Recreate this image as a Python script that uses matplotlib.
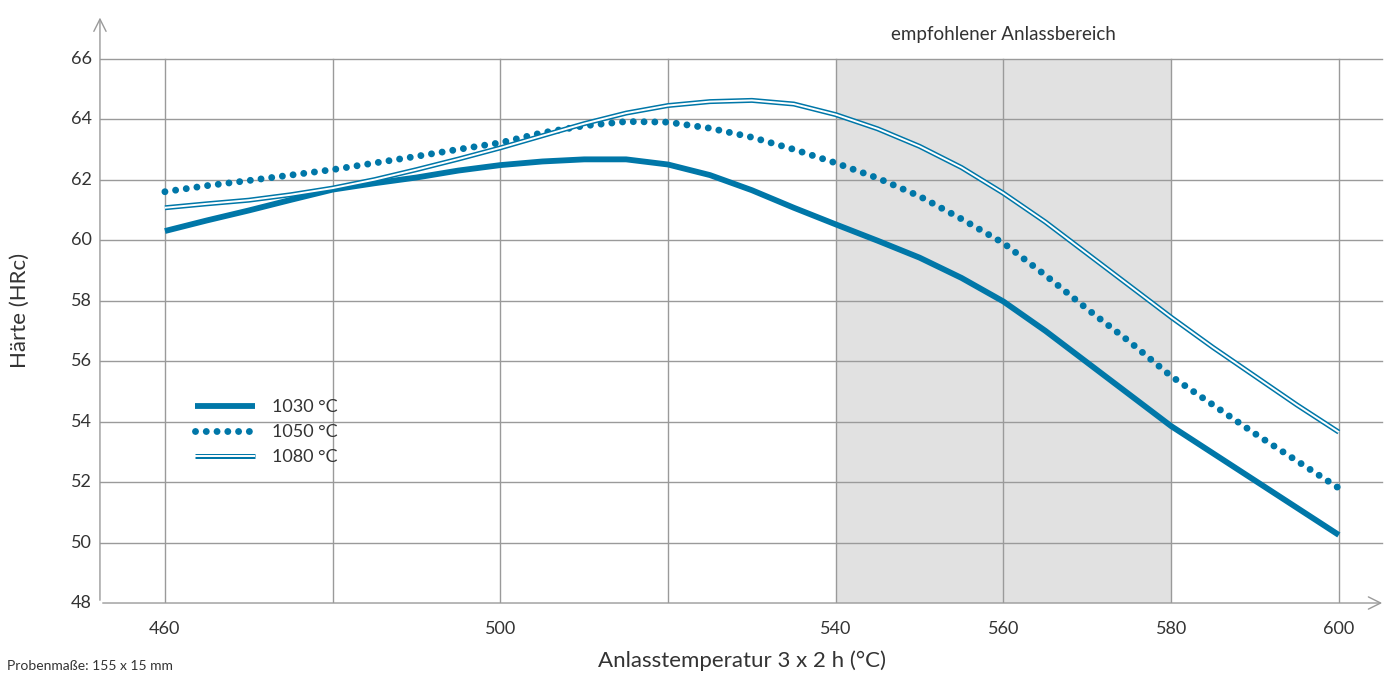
import numpy as np
import matplotlib.pyplot as plt
from matplotlib.legend_handler import HandlerTuple

plt.rcParams['font.family'] = ['Lato', 'DejaVu Sans']

# Anlasstemperatur (°C)
temp = [460, 465, 470, 475, 480, 485, 490, 495, 500, 505, 510, 515, 520, 525, 530,
        535, 540, 545, 550, 555, 560, 565, 570, 575, 580, 585, 590, 595, 600]
# Härte (HRc) je Härtetemperatur
h1030 = [60.3, 60.65, 60.98, 61.33, 61.67, 61.88, 62.07, 62.3, 62.48, 62.6, 62.67, 62.67, 62.5,
         62.15, 61.65, 61.07, 60.52, 59.98, 59.42, 58.75, 57.97, 57.0, 55.95, 54.9, 53.85, 52.95,
         52.05, 51.15, 50.25]
h1050 = [61.6, 61.8, 61.97, 62.15, 62.33, 62.55, 62.77, 63.0, 63.22, 63.55, 63.78, 63.92, 63.9,
         63.7, 63.4, 63.0, 62.55, 62.05, 61.45, 60.7, 59.9, 58.84, 57.72, 56.65, 55.5, 54.55,
         53.6, 52.7, 51.8]
h1080 = [61.07, 61.2, 61.32, 61.5, 61.72, 62.0, 62.33, 62.68, 63.05, 63.45, 63.85, 64.2, 64.45,
         64.58, 64.62, 64.5, 64.15, 63.68, 63.1, 62.4, 61.55, 60.6, 59.55, 58.5, 57.45, 56.45,
         55.5, 54.55, 53.65]
labels = ['1030 °C', '1050 °C', '1080 °C']
xticks = [460, 500, 540, 560, 580, 600]
xgrid = [460, 480, 500, 520, 540, 560, 580, 600]
yticks = [48, 50, 52, 54, 56, 58, 60, 62, 64, 66]
band = (540, 580)

blue = '#0077a8'
grey = '#9a9a9a'
txt = '#333333'

fig = plt.figure(figsize=(13.94, 6.73), dpi=100)
ax = fig.add_axes([0.0717, 0.104, 0.9218, 0.874])
x0, x1 = 452.25, 605.5
y0, y1 = 48, 67.45
ax.set_xlim(x0, x1)
ax.set_ylim(y0, y1)
for s in ax.spines.values():
    s.set_visible(False)

# empfohlener Bereich
ax.fill_between(band, 48, 66, color='#e1e1e1', lw=0, zorder=0)
ax.text(sum(band) / 2, 66.8, 'empfohlener Anlassbereich', ha='center', va='center',
        fontsize=13.5, color=txt)

# Gitter
for x in xgrid:
    ax.plot([x, x], [48, 66], color=grey, lw=1, zorder=1)
for y in yticks[1:]:
    ax.plot([x0, x1 - 0.3], [y, y], color=grey, lw=1, zorder=1)

# Achsen mit Pfeilen
ax.annotate('', xy=(x1, 48), xytext=(x0, 48),
            arrowprops=dict(arrowstyle='->', color=grey, lw=1, mutation_scale=22), zorder=2)
ax.annotate('', xy=(x0, y1), xytext=(x0, 48),
            arrowprops=dict(arrowstyle='->', color=grey, lw=1, mutation_scale=22), zorder=2)

# Kurven
l1, = ax.plot(temp, h1030, color=blue, lw=4.2, solid_capstyle='butt', zorder=3)
l2, = ax.plot(temp, h1050, color=blue, lw=5, linestyle=(0, (0.001, 1.55)),
              dash_capstyle='round', zorder=3)
l3a, = ax.plot(temp, h1080, color=blue, lw=3.6, solid_capstyle='butt', zorder=3)
l3b, = ax.plot(temp, h1080, color='white', lw=1.4, solid_capstyle='butt', zorder=3)

ax.set_xticks([])
ax.set_yticks([])
for x in xticks:
    ax.text(x, 47.15, str(x), ha='center', va='center', fontsize=13, color=txt)
for y in yticks:
    ax.text(x0 - 1.0, y, str(y), ha='right', va='center', fontsize=13, color=txt)

fig.text(0.532, 0.019, 'Anlasstemperatur 3 x 2 h (°C)', ha='center', va='center',
         fontsize=16, color=txt)
fig.text(0.014, 0.539, 'Härte (HRc)', ha='center', va='center', rotation=90,
         fontsize=16, color=txt)
fig.text(0.005, 0.01, 'Probenmaße: 155 x 15 mm', ha='left', va='center',
         fontsize=10, color=txt)

leg = ax.legend([l1, l2, (l3a, l3b)], labels, loc='upper left',
                bbox_to_anchor=(0.0615, 0.374), frameon=False, fontsize=13,
                handlelength=3.3, handletextpad=0.94, labelspacing=0.5,
                handler_map={tuple: HandlerTuple(ndivide=1)})
for t in leg.get_texts():
    t.set_color(txt)

fig.savefig('out.png', dpi=100)
